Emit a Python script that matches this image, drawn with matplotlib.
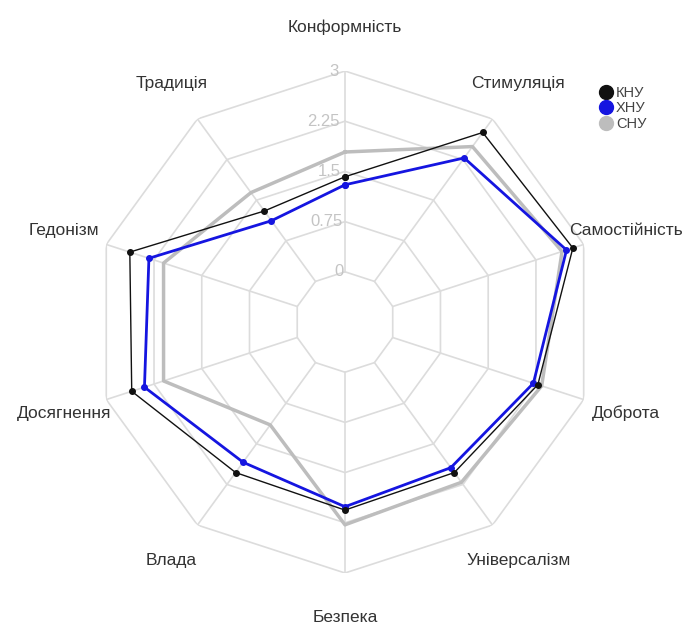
import numpy as np
import matplotlib.pyplot as plt

plt.rcParams['font.family'] = ['Liberation Sans', 'DejaVu Sans']

# категорії та значення по кожному університету
categories = ['Конформність', 'Стимуляція', 'Самостійність', 'Доброта', 'Універсалізм',
              'Безпека', 'Влада', 'Досягнення', 'Гедонізм', 'Традиція']
knu = [1.42, 2.75, 2.83, 2.28, 2.03, 2.06, 2.03, 2.60, 2.63, 1.30]
khnu = [1.30, 2.28, 2.73, 2.21, 1.94, 2.01, 1.84, 2.40, 2.33, 1.12]
cnu = [1.79, 2.49, 2.66, 2.34, 2.21, 2.28, 1.15, 2.10, 2.10, 1.64]
rticks = [0, 0.75, 1.5, 2.25, 3]
rticklabels = ['0', '0.75', '1.5', '2.25', '3']

n = len(categories)
angles = np.arange(n) * 2 * np.pi / n
closed = np.append(angles, angles[0])

fig = plt.figure(figsize=(6.84, 6.34), dpi=100)
ax = fig.add_axes([0.1374, 0.0962, 0.7339, 0.7918], projection='polar')
ax.set_theta_offset(np.pi / 2)
ax.set_theta_direction(-1)
ax.set_ylim(-0.75, 3)
ax.grid(False)
ax.spines['polar'].set_visible(False)
ax.set_xticks([])
ax.set_yticks([])

# сітка у вигляді десятикутників
grid_col = '#dcdcdc'
for r in rticks:
    ax.plot(closed, [r] * (n + 1), color=grid_col, lw=1.2, zorder=1)
for a in angles:
    ax.plot([a, a], [0, 3], color=grid_col, lw=1.2, zorder=1)

for r, lab in zip(rticks, rticklabels):
    ax.text(-0.025, r, lab, ha='right', va='center', fontsize=12, color='#c4c4c4', zorder=2)

for a, lab in zip(angles, categories):
    ax.text(a, 3.66, lab, ha='center', va='center', fontsize=12.5, color='#333333')

def close(v):
    return list(v) + [v[0]]

ax.plot(closed, close(cnu), color='#bdbdbd', lw=2.5, marker='o', ms=0.1, label='СНУ', zorder=3)
ax.plot(closed, close(khnu), color='#1515e0', lw=2, marker='o', ms=4, label='ХНУ', zorder=4)
ax.plot(closed, close(knu), color='#111111', lw=1, marker='o', ms=4, label='КНУ', zorder=5)

handles, labels = ax.get_legend_handles_labels()
order = [2, 1, 0]
leg = fig.legend([handles[i] for i in order], [labels[i] for i in order],
                 loc='upper left', bbox_to_anchor=(0.86, 0.885), frameon=False,
                 fontsize=10.5, handlelength=0.6, handletextpad=0.4, labelspacing=0.1,
                 labelcolor='#444444')
for h in leg.legend_handles:
    h.set_linestyle('None')
    h.set_markersize(10)

fig.savefig('out.png', dpi=100)
